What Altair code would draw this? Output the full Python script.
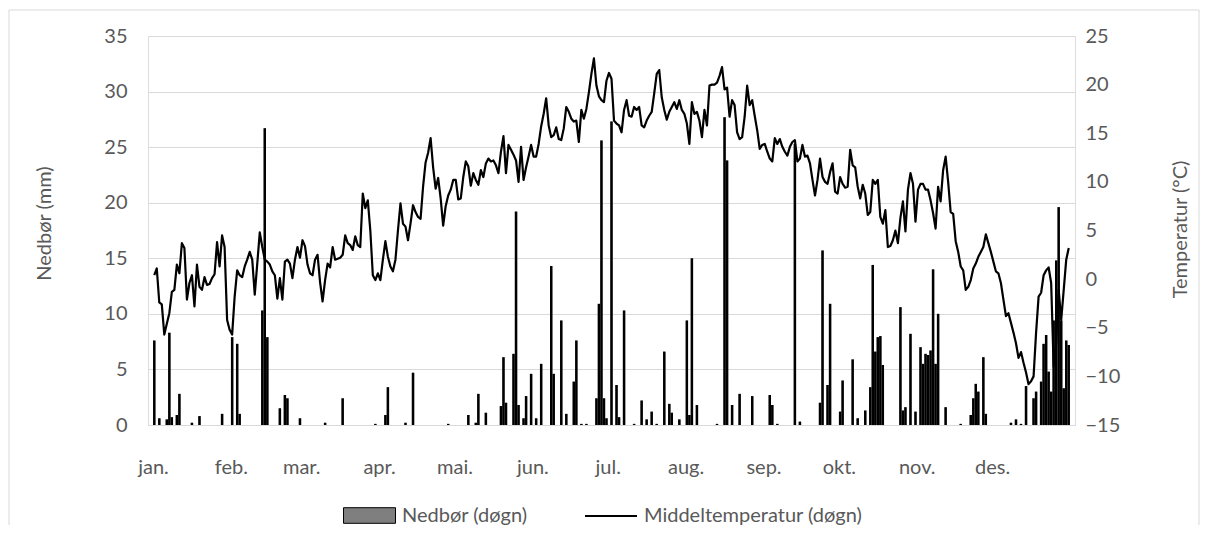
import altair as alt
import pandas as pd

# ---------------- data ----------------
month_starts = [0, 31, 59, 90, 120, 151, 181, 212, 243, 273, 304, 334]
month_labels = ["jan.", "feb.", "mar.", "apr.", "mai.", "jun.",
                "jul.", "aug.", "sep.", "okt.", "nov.", "des."]

temp_jan = [0.4, 1.1, -2.4, -2.6, -5.7, -4.6, -3.5, -1.3, -1.1, 1.5, 0.6, 3.7, 3.2, -2.1, -0.4,
            0.4, -2.8, 1.5, -0.8, -1.1, 0.2, -0.6, -0.5, 0.1, 0.5, 3.8, 1.3, 4.5, 3.3, -4.2, -5.2]
temp_feb = [-5.7, -1.8, 0.9, 0.4, 0.2, 1.3, 2.0, 2.8, 2.0, -1.6, 1.6, 4.8, 3.3, 2.0, 1.8,
            1.5, 0.8, 0.4, -2.0, 0.1, -2.1, 1.8, 2.0, 1.6, 0.1, 2.0, 3.3, 2.2]
temp_mar = [4.0, 3.4, 1.5, 0.6, 0.4, 2.0, 2.5, -0.3, -2.3, -0.1, 1.6, 1.2, 3.3, 2.0, 2.1,
            2.2, 2.5, 4.5, 3.7, 3.5, 3.0, 4.4, 3.5, 3.3, 8.8, 7.3, 8.1, 5.0, 0.4, -0.1, 0.6]
temp_apr = [-0.1, 2.0, 3.9, 2.3, 1.3, 0.8, 2.0, 5.0, 7.8, 5.7, 5.4, 4.0, 5.7, 7.6, 6.9,
            6.4, 6.2, 9.5, 12.0, 13.0, 14.5, 11.5, 9.3, 10.4, 8.3, 5.5, 7.5, 8.6, 9.2, 10.2]
temp_may = [10.2, 8.2, 8.3, 10.5, 12.1, 11.6, 9.6, 10.9, 10.2, 9.7, 11.2, 10.5, 11.9, 12.4, 12.1,
            12.2, 11.7, 10.9, 13.1, 14.7, 10.9, 13.8, 13.3, 12.8, 12.2, 10.0, 13.6, 10.2, 11.5, 12.6, 13.8]
temp_jun = [12.6, 12.6, 13.9, 15.7, 17.0, 18.6, 15.8, 14.6, 14.8, 15.6, 14.4, 14.3, 15.5, 17.7, 17.2,
            16.5, 16.2, 16.3, 14.1, 17.4, 16.5, 17.5, 19.2, 21.1, 22.7, 19.9, 18.8, 18.4, 18.2, 20.4]
temp_jul = [21.2, 20.6, 16.3, 16.0, 15.8, 15.1, 17.4, 18.4, 16.8, 16.7, 17.7, 17.4, 17.7, 15.8, 15.6,
            16.3, 16.8, 17.2, 19.1, 21.1, 21.5, 18.7, 17.4, 16.4, 17.2, 17.7, 18.2, 17.5, 18.4, 17.4, 17.0]
temp_aug = [16.0, 13.9, 18.2, 17.0, 17.2, 16.3, 14.6, 17.4, 15.8, 19.9, 20.0, 20.0, 20.2, 20.9, 21.8,
            19.5, 19.7, 16.7, 18.4, 17.9, 15.1, 14.4, 14.6, 16.7, 19.9, 17.9, 18.4, 16.8, 15.3, 13.4, 13.8]
temp_sep = [13.9, 13.1, 12.4, 12.1, 14.5, 13.9, 14.4, 13.6, 13.1, 12.7, 13.6, 14.1, 14.3, 12.1, 12.4,
            13.8, 12.6, 12.7, 11.9, 10.2, 8.6, 10.2, 12.4, 10.5, 10.0, 9.8, 11.0, 11.9, 9.0, 8.8]
temp_oct = [10.5, 9.8, 9.4, 9.5, 13.3, 11.7, 11.5, 9.5, 8.3, 9.7, 8.8, 6.6, 6.9, 10.2, 9.8,
            10.2, 6.4, 5.7, 7.1, 3.3, 3.4, 4.0, 5.0, 3.7, 6.3, 8.0, 4.9, 9.2, 10.9, 9.8, 5.9]
temp_nov = [9.2, 9.8, 9.8, 9.2, 9.2, 8.1, 6.8, 5.2, 9.5, 8.0, 11.2, 12.6, 10.0, 6.9, 6.7,
            3.9, 2.8, 1.3, 0.9, -1.1, -0.8, -0.1, 1.1, 1.6, 2.3, 2.8, 3.3, 4.6, 3.7, 2.8]
temp_dec = [1.8, 0.8, 0.6, -0.4, -2.1, -3.8, -3.5, -4.5, -5.5, -6.6, -8.1, -7.5, -8.6, -9.6, -10.8,
            -10.5, -10.0, -5.5, -1.8, -1.4, 0.4, 0.9, 1.2, -0.4, -9.0, -6.6, -1.1, -4.2, -1.1, 2.0, 3.2]

# precipitation: day of year (0 = 1 Jan) and mm
rain_day = [0, 2, 5, 6, 7, 9, 10, 15, 18, 27, 31, 33, 34,
            43, 44, 45, 50, 52, 53, 58, 68,
            75, 88, 92, 93, 100, 103,
            117, 125, 128, 129, 132, 138, 139, 140, 143, 144, 145, 147, 148, 150,
            152, 154, 158, 159, 162, 164, 167, 168, 170, 172, 176, 177, 178, 179, 180,
            182, 184, 185, 187, 191, 194, 196, 198, 200, 203, 205, 206, 209,
            212, 213, 214, 216, 224, 227, 228, 230, 233, 238,
            245, 246, 248, 255, 257, 265, 266, 268, 269,
            273, 274, 278, 280, 283, 285, 286, 287, 288, 289, 290, 297, 298, 299, 301, 303,
            305, 306, 307, 308, 309, 310, 311, 312, 315, 321, 325, 326, 327, 328, 330, 331,
            341, 343, 345, 347, 350, 351, 353, 354, 355, 356, 357, 358, 359, 360, 361, 362, 363, 364]
rain_mm = [7.6, 0.6, 0.5, 8.3, 0.7, 0.9, 2.8, 0.2, 0.8, 1.0, 7.9, 7.3, 1.0,
           10.3, 26.7, 7.9, 1.5, 2.7, 2.4, 0.6, 0.2,
           2.4, 0.1, 0.9, 3.4, 0.2, 4.7,
           0.1, 0.9, 0.2, 2.8, 1.1, 1.7, 6.1, 2.0, 6.4, 19.2, 1.8, 0.6, 2.6, 4.6,
           0.6, 5.5, 14.3, 4.6, 9.4, 1.0, 3.9, 7.6, 0.1, 0.1, 2.4, 10.9, 25.6, 2.4, 0.6,
           27.3, 3.6, 0.7, 10.3, 0.1, 2.2, 0.5, 1.2, 0.1, 6.6, 1.9, 1.1, 0.5,
           9.4, 0.9, 15.0, 1.8, 0.1, 27.7, 23.8, 1.8, 2.8, 2.6,
           2.7, 1.8, 0.1, 25.3, 0.3, 2.0, 15.7, 3.6, 10.9,
           1.2, 4.0, 5.9, 0.6, 1.3, 3.4, 14.4, 6.6, 7.9, 8.0, 5.4, 10.6, 1.3, 1.6, 8.2, 1.2,
           7.0, 5.5, 6.4, 6.3, 6.7, 14.0, 5.5, 10.0, 1.6, 0.1, 0.9, 2.4, 3.7, 3.0, 6.1, 1.0,
           0.2, 0.5, 0.1, 3.5, 2.4, 3.0, 3.9, 7.3, 8.1, 4.8, 3.0, 9.4, 14.8, 19.6, 9.4, 3.3, 7.6, 7.2]

# ---------------- tables ----------------
temperature = (temp_jan + temp_feb + temp_mar + temp_apr + temp_may + temp_jun +
               temp_jul + temp_aug + temp_sep + temp_oct + temp_nov + temp_dec)
assert len(temperature) == 365
assert len(rain_day) == len(rain_mm)

temp_df = pd.DataFrame({"x": [d + 0.5 for d in range(365)],
                        "temp": temperature,
                        "serie": "Middeltemperatur (døgn)"})
rain_df = pd.DataFrame({"x": [d + 0.5 for d in rain_day],
                        "mm": rain_mm,
                        "serie": "Nedbør (døgn)"})

FONT = "Lato"
GREY_TXT = "#595959"
GRID = "#d9d9d9"
BAR_W = 2.4

label_expr = "{}[indexof({}, datum.value)]".format(
    "[" + ",".join("'%s'" % m for m in month_labels) + "]",
    "[" + ",".join(str(v) for v in month_starts) + "]")

x_axis = alt.Axis(values=month_starts, labelExpr=label_expr, grid=False, ticks=False,
                  domain=True, domainColor=GRID, domainWidth=1,
                  labelColor=GREY_TXT, labelFontSize=20, labelFont=FONT,
                  labelPadding=42, labelBaseline="middle", labelAlign="center",
                  labelFlush=False, labelOverlap=False)
x_enc = alt.X("x:Q", scale=alt.Scale(domain=[0, 365], nice=False, zero=False),
              axis=x_axis, title=None)

left_axis = alt.Axis(orient="left", values=[0, 5, 10, 15, 20, 25, 30, 35], grid=True,
                     gridColor=GRID, gridWidth=1, domain=False, ticks=False,
                     labelColor=GREY_TXT, labelFontSize=20, labelFont=FONT, labelPadding=21,
                     titleColor=GREY_TXT, titleFontSize=20, titleFont=FONT,
                     titleFontWeight="normal", titleAngle=270, titleX=-104, titleY=187,
                     titleAlign="center", titleBaseline="middle")
right_axis = alt.Axis(orient="right", values=[-15, -10, -5, 0, 5, 10, 15, 20, 25], grid=False,
                      domain=False, ticks=False,
                      labelColor=GREY_TXT, labelFontSize=20, labelFont=FONT, labelPadding=10,
                      titleColor=GREY_TXT, titleFontSize=20, titleFont=FONT,
                      titleFontWeight="normal", titleAngle=270, titleX=105, titleY=193,
                      titleAlign="center", titleBaseline="middle")

bars_grey = alt.Chart(rain_df).mark_bar(size=BAR_W).encode(
    x=x_enc,
    y=alt.Y("mm:Q", scale=alt.Scale(domain=[0, 35], nice=False, zero=True),
            axis=left_axis, title="Nedbør (mm)"),
    color=alt.Color("serie:N",
                    scale=alt.Scale(domain=["Nedbør (døgn)"], range=["#7f7f7f"]),
                    title=None,
                    legend=alt.Legend(orient="none", legendX=195, legendY=453, padding=0,
                                      symbolType="M-1,-0.3L1,-0.3L1,0.3L-1,0.3Z",
                                      symbolSize=2704, symbolStrokeColor="#000000",
                                      symbolStrokeWidth=1, symbolOpacity=1,
                                      labelFontSize=20, labelFont=FONT, labelColor=GREY_TXT,
                                      labelOffset=6, labelLimit=400)),
)

bars_black = alt.Chart(rain_df).mark_bar(size=BAR_W, color="#000000").encode(
    x=x_enc,
    y=alt.Y("mm:Q", scale=alt.Scale(domain=[0, 35], nice=False, zero=True), axis=None),
)

line = alt.Chart(temp_df).mark_line(strokeWidth=2.2, strokeJoin="round").encode(
    x=x_enc,
    y=alt.Y("temp:Q", scale=alt.Scale(domain=[-15, 25], nice=False, zero=False),
            axis=right_axis, title="Temperatur (°C)"),
    color=alt.Color("serie:N",
                    scale=alt.Scale(domain=["Middeltemperatur (døgn)"], range=["#000000"]),
                    title=None,
                    legend=alt.Legend(orient="none", legendX=436, legendY=453, padding=0,
                                      symbolType="stroke", symbolSize=2704,
                                      symbolStrokeWidth=2,
                                      labelFontSize=20, labelFont=FONT, labelColor=GREY_TXT,
                                      labelOffset=6, labelLimit=400)),
)

frame = alt.Chart(pd.DataFrame({"k": [0]})).mark_rect(
    filled=False, stroke=GRID, strokeWidth=1
).encode(x=alt.value(-139), x2=alt.value(1051), y=alt.value(-26), y2=alt.value(600))

chart = alt.layer(frame, bars_grey, bars_black, line).resolve_scale(
    y="independent", color="independent"
).properties(
    width=927, height=389,
    padding={"left": 140, "top": 28, "right": 125, "bottom": 100},
    autosize=alt.AutoSizeParams(type="none"),
).configure_view(stroke=None).configure(font=FONT, background="white")

chart.save("out.html", embed_options={"renderer": "svg", "actions": False})
